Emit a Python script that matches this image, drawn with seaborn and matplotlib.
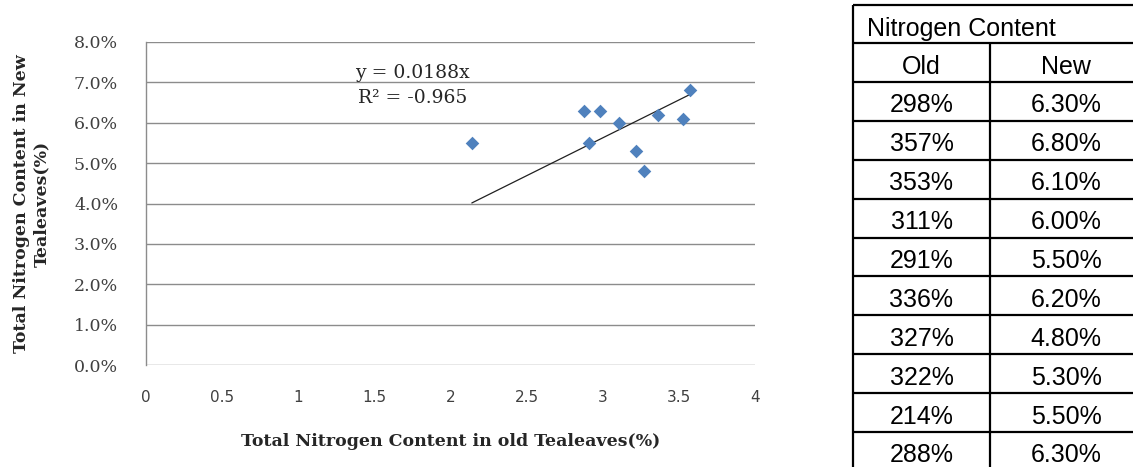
import numpy as np
import pandas as pd
import matplotlib.pyplot as plt
import seaborn as sns
from matplotlib.ticker import PercentFormatter

old_content = [2.98, 3.57, 3.53, 3.11, 2.91, 3.36, 3.27, 3.22, 2.14, 2.88]
new_content = [0.063, 0.068, 0.061, 0.060, 0.055, 0.062, 0.048, 0.053, 0.055, 0.063]
x_ticks = [0, 0.5, 1, 1.5, 2, 2.5, 3, 3.5, 4]
y_ticks = [0, 0.01, 0.02, 0.03, 0.04, 0.05, 0.06, 0.07, 0.08]
eq_text = "y = 0.0188x"
r2_text = "R² = -0.965"

df = pd.DataFrame({"old": old_content, "new": new_content})

# linear trendline forced through origin
slope = (df.old * df.new).sum() / (df.old ** 2).sum()
trend = pd.DataFrame({"old": [df.old.min(), df.old.max()]})
trend["new"] = slope * trend.old

sns.set_style("white")
plt.rcParams['font.family'] = ['DejaVu Sans']

W, H = 1133, 467
fig = plt.figure(figsize=(W / 100, H / 100), dpi=100)
ax = fig.add_axes([146 / W, 1 - 365 / H, (755 - 146) / W, (365 - 42) / H])

sns.lineplot(data=trend, x="old", y="new", ax=ax, color="#202020", linewidth=0.9)
sns.scatterplot(data=df, x="old", y="new", ax=ax, marker="D", s=48,
                color="#4F81BD", linewidth=0, zorder=3)

ax.set_xlim(0, 4)
ax.set_ylim(0, 0.08)
ax.set_xticks(x_ticks)
ax.set_xticklabels([f"{t:g}" for t in x_ticks], fontsize=11, color="#404040",
                   family="DejaVu Sans")
ax.set_yticks(y_ticks)
ax.yaxis.set_major_formatter(PercentFormatter(1.0, decimals=1))
for lab in ax.get_yticklabels():
    lab.set_family("DejaVu Serif")
    lab.set_fontsize(12.5)
    lab.set_color("#404040")
ax.tick_params(axis="x", length=0, pad=18)
ax.tick_params(axis="y", length=0, pad=20)

ax.grid(axis="y", color="#8c8c8c", linewidth=1)
ax.grid(axis="x", visible=False)
ax.set_axisbelow(True)
for side in ["top", "right", "bottom"]:
    ax.spines[side].set_visible(False)
ax.spines["left"].set_color("#8c8c8c")
ax.spines["left"].set_linewidth(1)

ax.set_xlabel("Total Nitrogen Content in old Tealeaves(%)", family="DejaVu Serif",
              fontweight="bold", fontsize=12.5, labelpad=20)
ax.set_ylabel("Total Nitrogen Content in New\nTealeaves(%)", family="DejaVu Serif",
              fontweight="bold", fontsize=12.5, labelpad=17, linespacing=1.25)

ax.text(1.37, 0.0723, eq_text, family="DejaVu Serif", fontsize=13.5, va="center")
ax.text(1.39, 0.0661, r2_text, family="DejaVu Serif", fontsize=13.5, va="center")

# table drawn in pixel coordinates on an overlay axes
tab = fig.add_axes([0, 0, 1, 1])
tab.set_xlim(0, W)
tab.set_ylim(H, 0)
tab.axis("off")

left, mid, right = 853, 990, 1142
top, head_h, row_h = 5, 38, 38.9
n_rows = len(old_content) + 1
rows_y = [top, top + head_h] + [top + head_h + row_h * (i + 1) for i in range(n_rows)]
bottom = rows_y[-1]

tab.hlines(rows_y, left, right, color="black", linewidth=1.6)
tab.vlines([left, right], top, bottom, color="black", linewidth=1.6)
tab.vlines(mid, rows_y[1], bottom, color="black", linewidth=1.6)

font_t = dict(family="Liberation Sans", fontsize=18, va="center", color="black")
tab.text(left + 14, (rows_y[0] + rows_y[1]) / 2 + 5, "Nitrogen Content", ha="left", **font_t)
tab.text((left + mid) / 2, (rows_y[1] + rows_y[2]) / 2 + 5, "Old", ha="center", **font_t)
tab.text((mid + right) / 2, (rows_y[1] + rows_y[2]) / 2 + 5, "New", ha="center", **font_t)
for i, (o, n) in enumerate(zip(old_content, new_content)):
    yc = (rows_y[i + 2] + rows_y[i + 3]) / 2 + 4
    tab.text((left + mid) / 2, yc, f"{round(o * 100)}%", ha="center", **font_t)
    tab.text((mid + right) / 2, yc, f"{n * 100:.2f}%", ha="center", **font_t)

fig.savefig("out.png", dpi=100)
